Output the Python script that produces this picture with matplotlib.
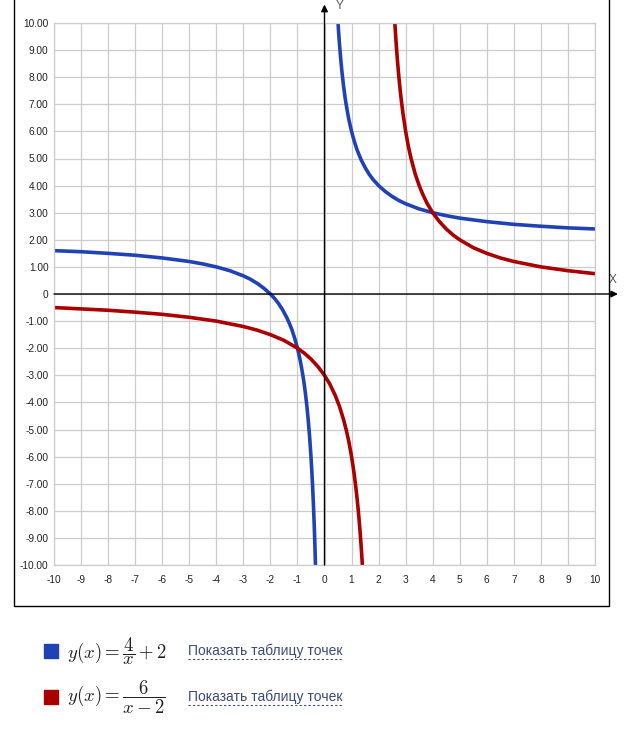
import matplotlib
matplotlib.use("Agg")
from matplotlib import pyplot as plt
from matplotlib.patches import Rectangle
from matplotlib.lines import Line2D

W, H = 634, 732

# values
blue_left_x = [-10, -9, -8, -7, -6, -5, -4.5, -4, -3.5, -3, -2.75, -2.5, -2.25, -2, -1.85, -1.7,
               -1.55, -1.4, -1.3, -1.2, -1.1, -1, -0.95, -0.9, -0.85, -0.8, -0.75, -0.7, -0.65,
               -0.6, -0.55, -0.5, -0.47, -0.44, -0.41, -0.38, -0.36, -0.333]
blue_left_y = [1.60, 1.56, 1.50, 1.43, 1.33, 1.20, 1.11, 1.00, 0.86, 0.67, 0.55, 0.40, 0.22,
               0.00, -0.16, -0.35, -0.58, -0.86, -1.08, -1.33, -1.64, -2.00, -2.21, -2.44,
               -2.71, -3.00, -3.33, -3.71, -4.15, -4.67, -5.27, -6.00, -6.51, -7.09, -7.76,
               -8.53, -9.11, -10.00]
blue_right_x = [0.4, 0.5, 0.53, 0.56, 0.6, 0.65, 0.7, 0.75, 0.8, 0.85, 0.9, 1.0, 1.1, 1.2, 1.35,
                1.5, 1.65, 1.8, 2.0, 2.25, 2.5, 2.75, 3, 3.5, 4, 4.5, 5, 6, 7, 8, 9, 10]
blue_right_y = [12.00, 10.00, 9.55, 9.14, 8.67, 8.15, 7.71, 7.33, 7.00, 6.71, 6.44, 6.00, 5.64,
                5.33, 4.96, 4.67, 4.42, 4.22, 4.00, 3.78, 3.60, 3.45, 3.33, 3.14, 3.00, 2.89,
                2.80, 2.67, 2.57, 2.50, 2.44, 2.40]
red_left_x = [-10, -9, -8, -7, -6, -5, -4, -3, -2.5, -2, -1.5, -1, -0.75, -0.5, -0.25, 0, 0.2,
              0.4, 0.55, 0.7, 0.8, 0.9, 1.0, 1.05, 1.1, 1.15, 1.2, 1.25, 1.3, 1.35, 1.4, 1.45]
red_left_y = [-0.50, -0.55, -0.60, -0.67, -0.75, -0.86, -1.00, -1.20, -1.33, -1.50, -1.71,
              -2.00, -2.18, -2.40, -2.67, -3.00, -3.33, -3.75, -4.14, -4.62, -5.00, -5.45,
              -6.00, -6.32, -6.67, -7.06, -7.50, -8.00, -8.57, -9.23, -10.00, -10.91]
red_right_x = [2.55, 2.6, 2.65, 2.7, 2.75, 2.8, 2.85, 2.9, 3.0, 3.1, 3.2, 3.35, 3.5, 3.65, 3.8,
               4.0, 4.25, 4.5, 4.75, 5, 5.5, 6, 6.5, 7, 8, 9, 10]
red_right_y = [10.91, 10.00, 9.23, 8.57, 8.00, 7.50, 7.06, 6.67, 6.00, 5.45, 5.00, 4.44, 4.00,
               3.64, 3.33, 3.00, 2.67, 2.40, 2.18, 2.00, 1.71, 1.50, 1.33, 1.20, 1.00, 0.86, 0.75]

x_ticks = list(range(-10, 11))
y_ticks = list(range(-10, 11))

BLUE = "#2142b5"
RED = "#aa0000"


def fx(px):
    return px / W


def fy(py):
    return 1 - py / H


plt.rcParams["font.family"] = ["Liberation Sans", "DejaVu Sans"]
plt.rcParams["mathtext.fontset"] = "cm"

fig = plt.figure(figsize=(W / 100, H / 100), dpi=100)
ax = fig.add_axes([fx(54), fy(565), fx(595) - fx(54), fy(23) - fy(565)])
ax.set_xlim(-10, 10)
ax.set_ylim(-10, 10)
ax.set_xticks(x_ticks)
ax.set_yticks(y_ticks)
ax.set_xticklabels([str(t) for t in x_ticks])
ax.set_yticklabels(["0" if t == 0 else f"{t:.2f}" for t in y_ticks])
ax.tick_params(length=0, labelsize=7.3, labelcolor="#222222")
ax.tick_params(axis="x", pad=7)
ax.tick_params(axis="y", pad=4)
ax.grid(True, color="#cccccc", lw=0.9)
for s in ax.spines.values():
    s.set_color("#cccccc")
    s.set_linewidth(0.9)

# axes with arrows
ax.annotate("", xy=(0, 10.68), xytext=(0, -10), xycoords="data",
            arrowprops=dict(arrowstyle="-|>", color="black", lw=1, mutation_scale=10,
                            shrinkA=0, shrinkB=0), annotation_clip=False)
ax.annotate("", xy=(10.85, 0), xytext=(-10, 0), xycoords="data",
            arrowprops=dict(arrowstyle="-|>", color="black", lw=1, mutation_scale=10,
                            shrinkA=0, shrinkB=0), annotation_clip=False)
ax.text(0.42, 10.62, "Y", fontsize=8.5, color="#555555", va="center", ha="left", clip_on=False)
ax.text(10.65, 0.5, "X", fontsize=8.5, color="#555555", va="center", ha="center", clip_on=False)

for xs, ys, c in [(blue_left_x, blue_left_y, BLUE), (blue_right_x, blue_right_y, BLUE),
                  (red_left_x, red_left_y, RED), (red_right_x, red_right_y, RED)]:
    ax.plot(xs, ys, color=c, lw=2.6, solid_joinstyle="round")

# outer frame
fig.patches.append(Rectangle((fx(14), fy(606)), fx(609) - fx(14), fy(-2) - fy(606),
                             transform=fig.transFigure, fill=False, edgecolor="black", lw=1))

# legend rows
rows = [(BLUE, r"$y(x) = \dfrac{4}{x} + 2$", 651),
        (RED, r"$y(x) = \dfrac{6}{x-2}$", 697)]
for color, label, cy in rows:
    fig.patches.append(Rectangle((fx(44), fy(cy + 7)), fx(14), 14 / H,
                                 transform=fig.transFigure, color=color))
    fig.text(fx(67), fy(cy), label, fontsize=13.5, va="center", ha="left", color="#222222")
    fig.text(fx(188), fy(cy + 4), "Показать таблицу точек", fontsize=10, color="#3d4a78",
             va="baseline", ha="left")
    fig.lines.append(Line2D([fx(188), fx(342)], [fy(cy + 8), fy(cy + 8)], transform=fig.transFigure,
                            color="#3d4a78", lw=0.8, ls=(0, (2, 2))))

fig.savefig("out.png", dpi=100)
